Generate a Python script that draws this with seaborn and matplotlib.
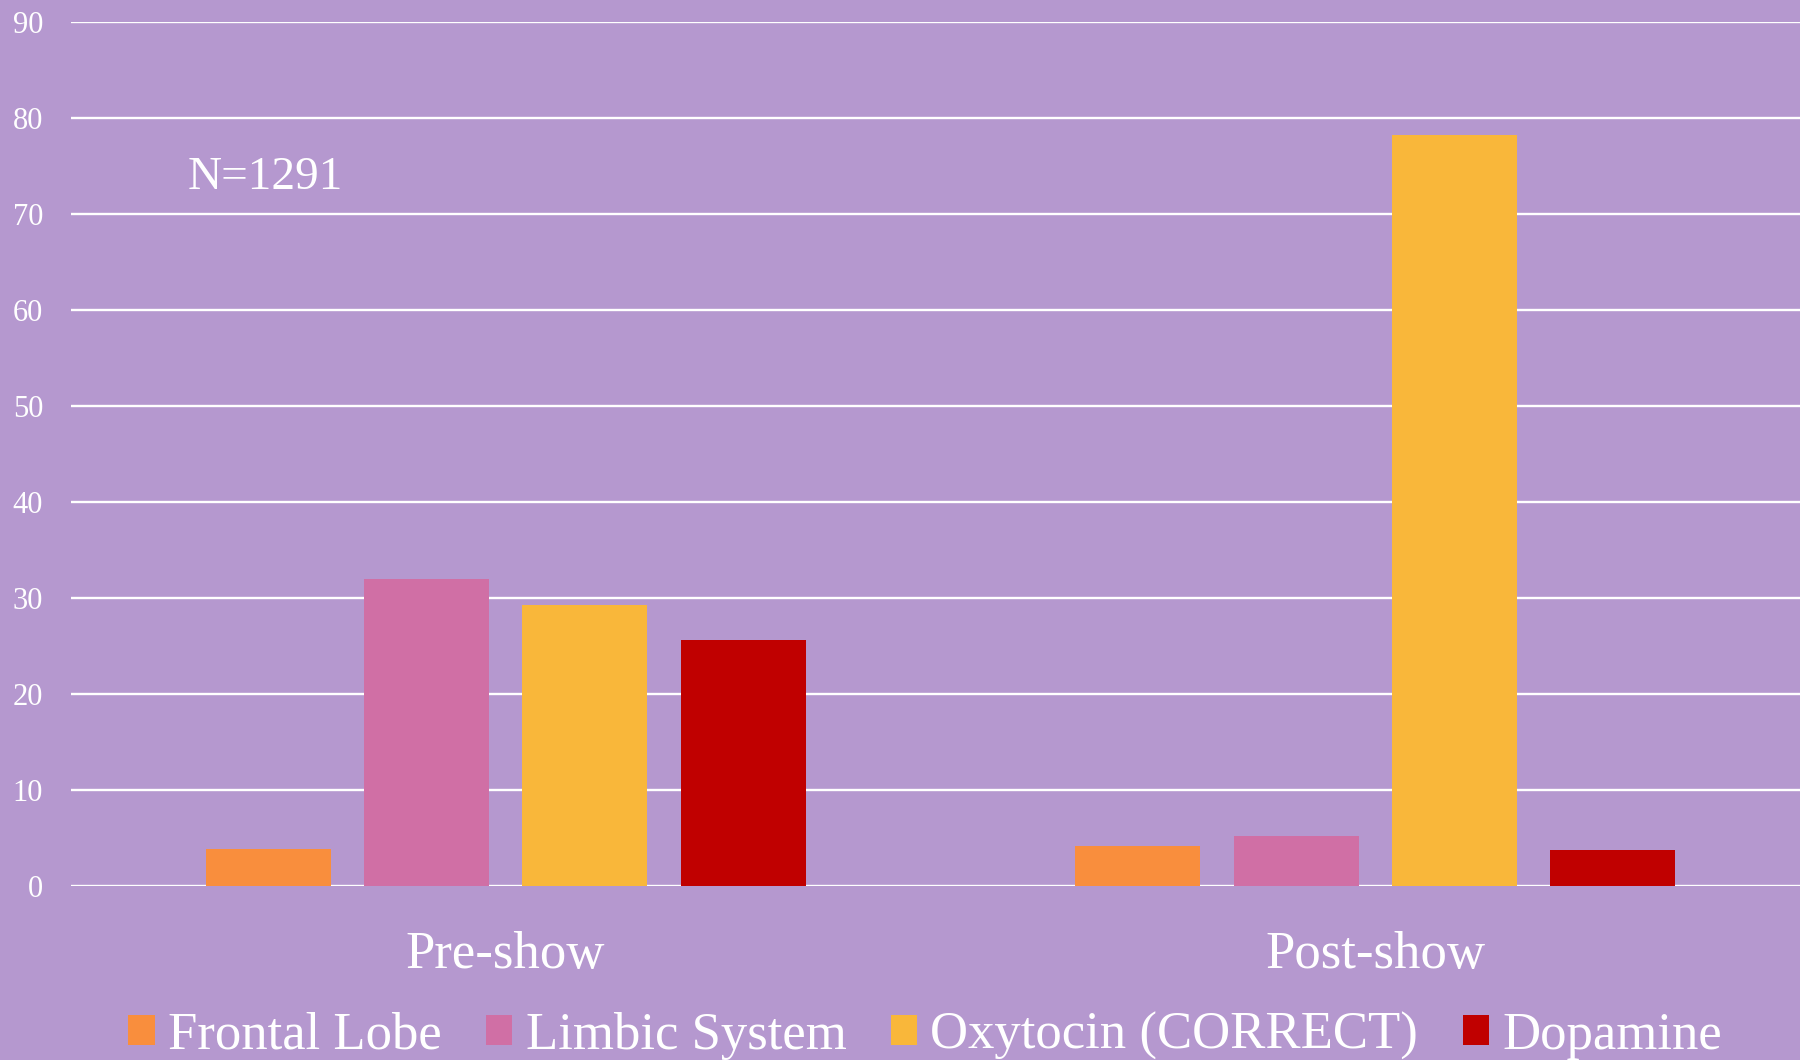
import pandas as pd
import seaborn as sns
import matplotlib.pyplot as plt

# chart data
phases = ['Pre-show', 'Post-show']
regions = ['Frontal Lobe', 'Limbic System', 'Oxytocin (CORRECT)', 'Dopamine']
pre_show = [3.9, 32.0, 29.3, 25.6]
post_show = [4.2, 5.2, 78.3, 3.8]
colors = ['#F98E3D', '#D06FA5', '#F9B73A', '#C00000']
y_ticks = [0, 10, 20, 30, 40, 50, 60, 70, 80, 90]

bg = '#B598CF'

df = pd.DataFrame({
    'phase': [phases[0]] * 4 + [phases[1]] * 4,
    'region': regions + regions,
    'value': pre_show + post_show,
})

sns.set_style('white')
plt.rcParams['font.family'] = ['Liberation Serif', 'DejaVu Serif']

fig = plt.figure(figsize=(18, 10.6), dpi=100, facecolor=bg)
ax = fig.add_axes([0.0394, 0.164, 0.9661, 0.815])
ax.set_facecolor(bg)

sns.barplot(data=df, x='phase', y='value', hue='region', hue_order=regions,
            order=phases, palette=colors, width=0.728, gap=0.21,
            saturation=1, linewidth=0, edgecolor='none',
            ax=ax, zorder=3, legend=True)

ax.set_ylim(0, 90)
ax.set_xlim(-0.5, 1.5)
ax.set_yticks(y_ticks)
ax.yaxis.grid(True, color='white', linewidth=1.7, zorder=0)
ax.set_axisbelow(True)
for s in ax.spines.values():
    s.set_visible(False)
ax.tick_params(axis='y', colors='white', labelsize=22, length=0, pad=20)
ax.tick_params(axis='x', colors='white', labelsize=38, length=0, pad=32)
ax.set_xlabel('')
ax.set_ylabel('')

ax.text(-0.366, 73.8, 'N=1291', color='white', fontsize=34,
        ha='left', va='center')

handles, labels = ax.get_legend_handles_labels()
ax.get_legend().remove()
leg = fig.legend(handles, labels, loc='center', bbox_to_anchor=(0.514, 0.0226),
                 ncol=4, frameon=False, fontsize=38, handlelength=0.5,
                 handleheight=0.5, handletextpad=0.25, columnspacing=0.84)
for t in leg.get_texts():
    t.set_color('white')

plt.savefig('out.png', dpi=100, facecolor=bg)
